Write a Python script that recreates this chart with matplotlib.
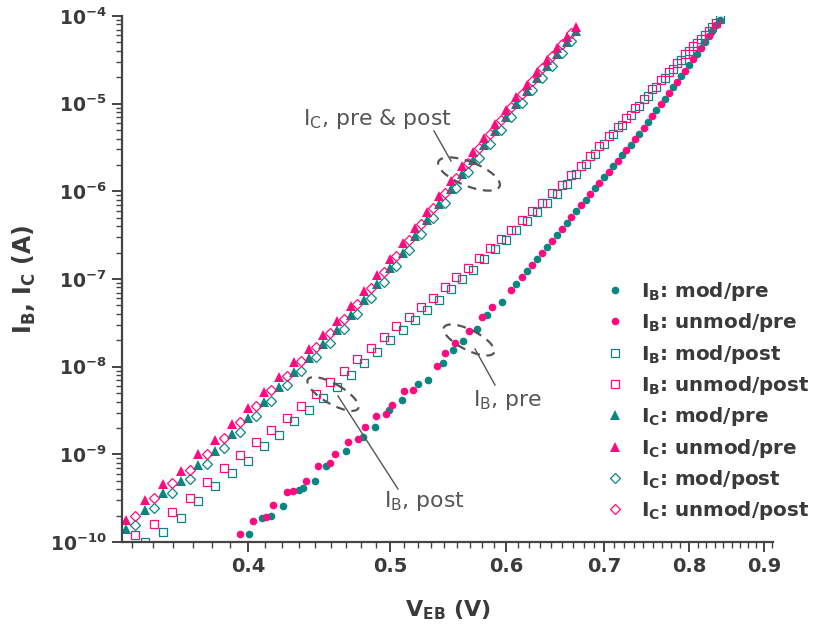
import numpy as np
import matplotlib
matplotlib.use('Agg')
import matplotlib.pyplot as plt
import matplotlib.transforms as mtransforms
from matplotlib.patches import Ellipse
from matplotlib.lines import Line2D
from matplotlib.ticker import FixedLocator, NullFormatter, LogLocator

plt.rcParams['font.family'] = ['DejaVu Sans']
plt.rcParams['mathtext.fontset'] = 'dejavusans'

# ---------------- data ----------------
# I_B pre (filled circles)
V_IB_mod_pre = [0.4004, 0.4089, 0.4147, 0.4226, 0.4333, 0.4360, 0.4443, 0.4520, 0.4664, 0.4791,
                0.4882, 0.4990, 0.5093, 0.5224, 0.5308, 0.5433, 0.5518, 0.5606, 0.5730, 0.5821,
                0.5960, 0.61, 0.62, 0.63, 0.64, 0.65, 0.66, 0.67, 0.68, 0.69, 0.70, 0.71, 0.72,
                0.73, 0.74, 0.75, 0.76, 0.77, 0.78, 0.79, 0.80, 0.81, 0.82, 0.83, 0.84]
IB_mod_pre = [1.24e-10, 1.89e-10, 1.99e-10, 2.59e-10, 3.94e-10, 4.15e-10, 4.99e-10, 7.40e-10, 1.10e-9, 1.58e-9,
              2.06e-9, 3.21e-9, 4.18e-9, 6.37e-9, 7.08e-9, 1.10e-8, 1.56e-8, 1.97e-8, 2.70e-8, 3.90e-8,
              5.48e-8, 8.77e-8, 1.22e-7, 1.70e-7, 2.34e-7, 3.21e-7, 4.38e-7, 5.96e-7, 8.04e-7, 1.08e-6,
              1.45e-6, 1.94e-6, 2.57e-6, 3.42e-6, 4.55e-6, 6.22e-6, 8.43e-6, 1.14e-5, 1.53e-5, 2.06e-5,
              2.75e-5, 3.73e-5, 5.03e-5, 6.78e-5, 9.08e-5]
V_IB_unmod_pre = [0.3948, 0.4030, 0.4113, 0.4159, 0.4250, 0.4291, 0.4380, 0.4463, 0.4548, 0.4584,
                  0.4679, 0.4753, 0.4806, 0.4890, 0.4967, 0.5014, 0.5110, 0.5183, 0.5382, 0.5450,
                  0.5536, 0.5658, 0.5775, 0.5866, 0.605, 0.615, 0.625, 0.635, 0.645, 0.655, 0.665,
                  0.675, 0.685, 0.695, 0.705, 0.715, 0.725, 0.735, 0.745, 0.755, 0.765, 0.775,
                  0.785, 0.795, 0.805, 0.815, 0.825, 0.835]
IB_unmod_pre = [1.24e-10, 1.75e-10, 1.94e-10, 2.65e-10, 3.73e-10, 3.83e-10, 4.99e-10, 7.40e-10, 8.0e-10, 1.01e-9,
                1.39e-9, 1.50e-9, 2.06e-9, 2.75e-9, 2.90e-9, 3.67e-9, 5.30e-9, 5.43e-9, 1.02e-8, 1.44e-8,
                1.87e-8, 2.56e-8, 3.70e-8, 4.81e-8, 7.41e-8, 1.04e-7, 1.44e-7, 2.00e-7, 2.74e-7, 3.75e-7,
                5.11e-7, 6.92e-7, 9.31e-7, 1.25e-6, 1.68e-6, 2.23e-6, 2.96e-6, 3.94e-6, 5.31e-6, 7.24e-6,
                9.79e-6, 1.32e-5, 1.78e-5, 2.38e-5, 3.20e-5, 4.33e-5, 5.84e-5, 7.83e-5]

# I_B post (open squares)
V_IB_mod_post = [0.34, 0.35, 0.36, 0.37, 0.38, 0.39, 0.40, 0.41, 0.42, 0.43, 0.44, 0.45, 0.46, 0.47, 0.48,
                 0.49, 0.50, 0.51, 0.52, 0.53, 0.54, 0.55, 0.56, 0.57, 0.58, 0.59, 0.60, 0.61, 0.62, 0.63,
                 0.64, 0.65, 0.66, 0.67, 0.68, 0.69, 0.70, 0.71, 0.72, 0.73, 0.74, 0.75, 0.76, 0.77, 0.78,
                 0.79, 0.80, 0.81, 0.82, 0.83, 0.84]
IB_mod_post = [1.0e-10, 1.3e-10, 1.9e-10, 2.9e-10, 4.4e-10, 6.2e-10, 8.5e-10, 1.24e-9, 1.65e-9, 2.4e-9,
               3.2e-9, 4.4e-9, 5.9e-9, 8.1e-9, 1.09e-8, 1.46e-8, 2.0e-8, 2.65e-8, 3.4e-8, 4.4e-8,
               5.8e-8, 7.6e-8, 9.9e-8, 1.28e-7, 1.68e-7, 2.18e-7, 2.78e-7, 3.62e-7, 4.6e-7, 5.85e-7,
               7.4e-7, 9.4e-7, 1.2e-6, 1.56e-6, 2.03e-6, 2.65e-6, 3.45e-6, 4.5e-6, 5.7e-6, 7.45e-6,
               9.45e-6, 1.23e-5, 1.56e-5, 1.98e-5, 2.5e-5, 3.18e-5, 3.94e-5, 4.87e-5, 6.0e-5, 7.43e-5,
               9.15e-5]
V_IB_unmod_post = [0.335, 0.345, 0.355, 0.365, 0.375, 0.385, 0.395, 0.405, 0.415, 0.425, 0.435, 0.445,
                   0.455, 0.465, 0.475, 0.485, 0.495, 0.505, 0.515, 0.525, 0.535, 0.545, 0.555, 0.565,
                   0.575, 0.585, 0.595, 0.605, 0.615, 0.625, 0.635, 0.645, 0.655, 0.665, 0.675, 0.685,
                   0.695, 0.705, 0.715, 0.725, 0.735, 0.745, 0.755, 0.765, 0.775, 0.785, 0.795, 0.805,
                   0.815, 0.825, 0.835]
IB_unmod_post = [1.2e-10, 1.6e-10, 2.2e-10, 3.2e-10, 4.8e-10, 7.0e-10, 9.7e-10, 1.37e-9, 1.9e-9, 2.6e-9,
                 3.6e-9, 4.9e-9, 6.7e-9, 9.0e-9, 1.21e-8, 1.62e-8, 2.18e-8, 2.9e-8, 3.7e-8, 4.8e-8,
                 6.15e-8, 8.0e-8, 1.04e-7, 1.34e-7, 1.73e-7, 2.25e-7, 2.87e-7, 3.66e-7, 4.68e-7, 5.9e-7,
                 7.45e-7, 9.45e-7, 1.19e-6, 1.52e-6, 1.97e-6, 2.55e-6, 3.3e-6, 4.26e-6, 5.44e-6, 6.95e-6,
                 8.9e-6, 1.14e-5, 1.46e-5, 1.84e-5, 2.32e-5, 2.92e-5, 3.64e-5, 4.5e-5, 5.53e-5, 6.8e-5,
                 8.4e-5]

# I_C pre (filled triangles)
V_IC_pre = [0.33, 0.34, 0.35, 0.36, 0.37, 0.38, 0.39, 0.40, 0.41, 0.42, 0.43, 0.44, 0.45, 0.46, 0.47,
            0.48, 0.49, 0.50, 0.51, 0.52, 0.53, 0.54, 0.55, 0.56, 0.57, 0.58, 0.59, 0.60, 0.61, 0.62,
            0.63, 0.64, 0.65, 0.66, 0.67]
IC_mod_pre = [1.4e-10, 2.3e-10, 3.6e-10, 5.0e-10, 7.5e-10, 1.1e-9, 1.7e-9, 2.6e-9, 4.0e-9, 5.8e-9,
              8.8e-9, 1.25e-8, 1.8e-8, 2.6e-8, 3.9e-8, 5.8e-8, 8.7e-8, 1.33e-7, 2.0e-7, 3.1e-7,
              4.7e-7, 7.2e-7, 1.06e-6, 1.58e-6, 2.3e-6, 3.4e-6, 4.9e-6, 7.0e-6, 9.9e-6, 1.4e-5,
              1.95e-5, 2.7e-5, 3.7e-5, 5.0e-5, 6.7e-5]
IC_unmod_pre = [1.8e-10, 3.0e-10, 4.6e-10, 6.5e-10, 1.0e-9, 1.45e-9, 2.2e-9, 3.4e-9, 5.1e-9, 7.6e-9,
                1.12e-8, 1.6e-8, 2.3e-8, 3.3e-8, 4.9e-8, 7.3e-8, 1.1e-7, 1.68e-7, 2.55e-7, 3.85e-7,
                5.8e-7, 8.8e-7, 1.3e-6, 1.92e-6, 2.8e-6, 4.1e-6, 5.9e-6, 8.4e-6, 1.18e-5, 1.65e-5,
                2.3e-5, 3.15e-5, 4.3e-5, 5.8e-5, 7.5e-5]

# I_C post (open diamonds)
V_IC_post = [0.335, 0.345, 0.355, 0.365, 0.375, 0.385, 0.395, 0.405, 0.415, 0.425, 0.435, 0.445,
             0.455, 0.465, 0.475, 0.485, 0.495, 0.505, 0.515, 0.525, 0.535, 0.545, 0.555, 0.565,
             0.575, 0.585, 0.595, 0.605, 0.615, 0.625, 0.635, 0.645, 0.655, 0.665]
IC_mod_post = [1.55e-10, 2.45e-10, 3.6e-10, 5.3e-10, 7.7e-10, 1.17e-9, 1.79e-9, 2.73e-9, 4.1e-9, 6.1e-9,
               8.9e-9, 1.29e-8, 1.87e-8, 2.72e-8, 4.0e-8, 6.1e-8, 9.2e-8, 1.4e-7, 2.13e-7, 3.24e-7,
               4.9e-7, 7.4e-7, 1.1e-6, 1.64e-6, 2.41e-6, 3.5e-6, 5.0e-6, 7.1e-6, 1.01e-5, 1.42e-5,
               1.97e-5, 2.71e-5, 3.75e-5, 5.14e-5]
IC_unmod_post = [1.97e-10, 3.2e-10, 4.7e-10, 6.7e-10, 1.0e-9, 1.52e-9, 2.33e-9, 3.57e-9, 5.35e-9, 7.9e-9,
                 1.15e-8, 1.66e-8, 2.41e-8, 3.53e-8, 5.25e-8, 7.9e-8, 1.19e-7, 1.82e-7, 2.77e-7, 4.2e-7,
                 6.4e-7, 9.6e-7, 1.43e-6, 2.13e-6, 3.1e-6, 4.47e-6, 6.5e-6, 9.2e-6, 1.3e-5, 1.82e-5,
                 2.52e-5, 3.47e-5, 4.77e-5, 6.44e-5]

x_ticks = [0.4, 0.5, 0.6, 0.7, 0.8, 0.9]
x_tick_labels = ['0.4', '0.5', '0.6', '0.7', '0.8', '0.9']
y_ticks = [1e-10, 1e-9, 1e-8, 1e-7, 1e-6, 1e-5, 1e-4]
y_tick_labels = [r'$\mathbf{10^{-10}}$', r'$\mathbf{10^{-9}}$', r'$\mathbf{10^{-8}}$', r'$\mathbf{10^{-7}}$',
                 r'$\mathbf{10^{-6}}$', r'$\mathbf{10^{-5}}$', r'$\mathbf{10^{-4}}$']

# ---------------- style ----------------
TEAL = '#0b8580'
PINK = '#ff0a7f'
AX = '#444444'
TXT = '#3a3a3a'
ANN = '#555555'

fig = plt.figure(figsize=(8.17, 6.34), dpi=100)
ax = fig.add_axes([0.149, 0.1451, 0.7972, 0.8297])
ax.set_xscale('log')
ax.set_yscale('log')

series = [
    (V_IB_mod_pre, IB_mod_pre, 'o', TEAL, True, 5.5, r'$\mathbf{I_B}$: mod/pre'),
    (V_IB_unmod_pre, IB_unmod_pre, 'o', PINK, True, 5.5, r'$\mathbf{I_B}$: unmod/pre'),
    (V_IB_mod_post, IB_mod_post, 's', TEAL, False, 5.5, r'$\mathbf{I_B}$: mod/post'),
    (V_IB_unmod_post, IB_unmod_post, 's', PINK, False, 5.5, r'$\mathbf{I_B}$: unmod/post'),
    (V_IC_pre, IC_mod_pre, '^', TEAL, True, 6.5, r'$\mathbf{I_C}$: mod/pre'),
    (V_IC_pre, IC_unmod_pre, '^', PINK, True, 6.5, r'$\mathbf{I_C}$: unmod/pre'),
    (V_IC_post, IC_mod_post, 'D', TEAL, False, 5.5, r'$\mathbf{I_C}$: mod/post'),
    (V_IC_post, IC_unmod_post, 'D', PINK, False, 5.5, r'$\mathbf{I_C}$: unmod/post'),
]
for V, I, mk, col, filled, ms, lab in series:
    ax.plot(V, I, ls='none', marker=mk, ms=ms, mfc=(col if filled else 'none'),
            mec=col, mew=(0 if filled else 0.9), label=lab, clip_on=True)

ax.set_xlim(0.328, 0.913)
ax.set_ylim(1e-10, 1e-4)

for s in ('top', 'right'):
    ax.spines[s].set_visible(False)
for s in ('left', 'bottom'):
    ax.spines[s].set_linewidth(1.6)
    ax.spines[s].set_color(AX)

ax.set_xticks(x_ticks, labels=x_tick_labels, fontsize=14, fontweight='bold', color=TXT)
minor_x = [a + j * 0.1 / 9 for a in (0.3, 0.4, 0.5, 0.6, 0.7, 0.8, 0.9) for j in range(1, 9)]
ax.xaxis.set_minor_locator(FixedLocator(minor_x))
ax.xaxis.set_minor_formatter(NullFormatter())
ax.set_yticks(y_ticks, labels=y_tick_labels, fontsize=13.5, color=TXT)
ax.yaxis.set_minor_locator(LogLocator(base=10, subs=np.arange(2, 10), numticks=30))
ax.yaxis.set_minor_formatter(NullFormatter())
ax.tick_params(which='major', direction='out', length=7, width=1.4, color=AX, pad=4)
ax.tick_params(which='minor', direction='out', length=4, width=1.0, color=AX)

ax.set_xlabel(r'$\mathbf{V_{EB}}$ (V)', fontsize=16, fontweight='bold', color=TXT)
ax.set_ylabel(r'$\mathbf{I_B}$, $\mathbf{I_C}$ (A)', fontsize=17, fontweight='bold', color=TXT)
ax.xaxis.set_label_coords(0.501, -0.108)
ax.yaxis.set_label_coords(-0.128, 0.5)

ax.legend(loc='upper left', bbox_to_anchor=(605 / 817, 1 - 280 / 634), bbox_transform=fig.transFigure,
          frameon=False, borderpad=0, borderaxespad=0, handlelength=1.0, handletextpad=0.8,
          labelspacing=0.42, prop={'weight': 'bold', 'size': 14.3}, labelcolor=TXT)

# ---------------- annotations (image-pixel coordinates) ----------------
pix = mtransforms.Affine2D().scale(1, -1).translate(0, 634)


def ann_text(x, y, s):
    fig.text(x, y, s, transform=pix, fontsize=15.8, color=ANN, ha='left', va='center')


def ann_line(x0, y0, x1, y1):
    fig.add_artist(Line2D([x0, x1], [y0, y1], transform=pix, color=ANN, lw=1.0))


def ann_ellipse(cx, cy, w, h, ang):
    fig.add_artist(Ellipse((cx, cy), w, h, angle=ang, transform=pix, fill=False,
                           ec=ANN, lw=1.6, ls=(0, (4, 3))))


ann_text(303, 119, r'I$_\mathregular{C}$, pre & post')
ann_line(434, 131, 451, 161)
ann_ellipse(469, 174, 66, 24, 22)

ann_text(473, 400, r'I$_\mathregular{B}$, pre')
ann_line(495, 385, 475, 349)
ann_ellipse(469, 340, 56, 20, 27)

ann_text(384, 501, r'I$_\mathregular{B}$, post')
ann_line(398, 489, 338, 396)
ann_ellipse(333, 394, 58, 20, 30)

fig.savefig('out.png', dpi=100)
